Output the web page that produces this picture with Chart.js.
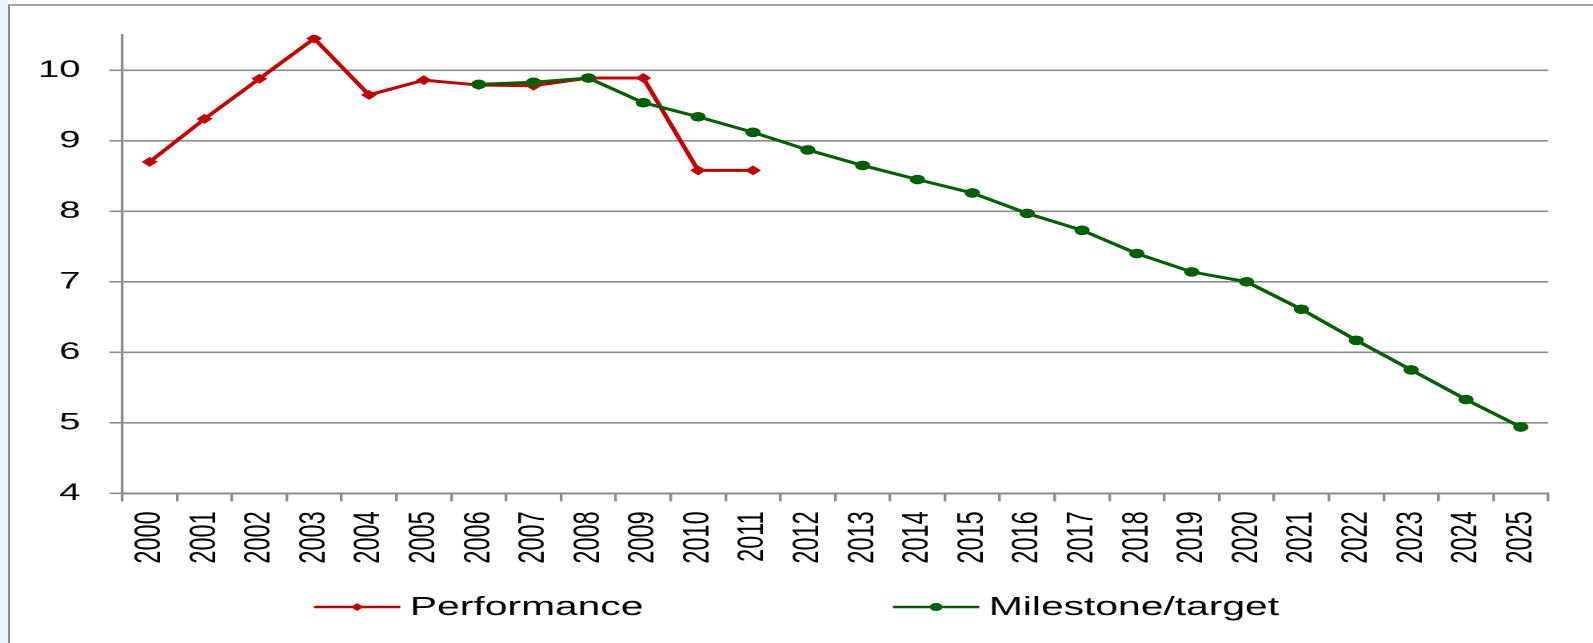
<!DOCTYPE html>
<html lang="en">
<head>
    <meta charset="UTF-8">
    <title>Performance and milestone/target</title>

    <script src="https://cdn.jsdelivr.net/npm/chart.js"></script>

    <style>
        html, body { margin: 0; padding: 0; background: #ffffff; }
        body { width: 1593px; height: 643px; position: relative; overflow: hidden; }
        #strip { position: absolute; left: 0; top: 0; width: 8px; height: 643px; background: #eef3fb; }
        #frame {
            position: absolute; left: 8px; top: 4px; right: 0; bottom: 0;
            border-left: 2px solid #8c8c8c; border-top: 2px solid #a6a6a6;
            background: #ffffff;
        }
        /* the original picture is stretched sideways, so is this one */
        #wrap {
            position: absolute; left: 0; top: 0; width: 996px; height: 643px;
            transform: scaleX(1.5994); transform-origin: 0 0;
        }
    </style>
</head>
<body>
    <div id="strip"></div>
    <div id="frame"></div>
    <div id="wrap"><canvas id="line-chart" width="996" height="643"></canvas></div>

    <script>
        // Data
        var years = ["2000", "2001", "2002", "2003", "2004", "2005", "2006", "2007", "2008",
                     "2009", "2010", "2011", "2012", "2013", "2014", "2015", "2016", "2017",
                     "2018", "2019", "2020", "2021", "2022", "2023", "2024", "2025"];

        var performance = [8.70, 9.31, 9.88, 10.45, 9.65, 9.86, 9.79, 9.78, 9.89, 9.89, 8.58, 8.58,
                           null, null, null, null, null, null, null, null, null, null, null, null, null, null];

        var milestone = [null, null, null, null, null, null,
                         9.80, 9.83, 9.89, 9.54, 9.34, 9.12, 8.87, 8.65, 8.45, 8.26, 7.97, 7.73,
                         7.40, 7.14, 7.00, 6.61, 6.17, 5.75, 5.33, 4.94];

        var yTicks = [4, 5, 6, 7, 8, 9, 10];

        var FONT = '"Liberation Sans", Arial, sans-serif';
        var GREY = "#8c8c8c";

        // Legend: a short line with the marker in the middle, then the label
        var lineLegend = {
            id: "lineLegend",
            afterDraw: function (chart) {
                var ctx = chart.ctx;
                var sets = chart.data.datasets;
                var lineLen = 54, textGap = 6, itemGap = 156, y = 607;

                ctx.save();
                ctx.font = "25.5px " + FONT;
                var widths = sets.map(function (ds) {
                    return lineLen + textGap + ctx.measureText(ds.label).width;
                });
                var total = widths.reduce(function (a, b) { return a + b; }, 0) + itemGap * (sets.length - 1);
                var x = chart.width / 2 - total / 2;

                sets.forEach(function (ds, i) {
                    ctx.strokeStyle = ds.borderColor;
                    ctx.lineWidth = 2.4;
                    ctx.beginPath();
                    ctx.moveTo(x, y);
                    ctx.lineTo(x + lineLen, y);
                    ctx.stroke();

                    var cx = x + lineLen / 2;
                    ctx.fillStyle = ds.borderColor;
                    ctx.beginPath();
                    if (ds.pointStyle === "rectRot") {
                        ctx.moveTo(cx - 4, y);
                        ctx.lineTo(cx, y - 4);
                        ctx.lineTo(cx + 4, y);
                        ctx.lineTo(cx, y + 4);
                        ctx.closePath();
                    } else {
                        ctx.arc(cx, y, 4, 0, Math.PI * 2);
                    }
                    ctx.fill();

                    ctx.fillStyle = "#000000";
                    ctx.textBaseline = "alphabetic";
                    ctx.textAlign = "left";
                    ctx.fillText(ds.label, x + lineLen + textGap, y + 8);
                    x += widths[i] + itemGap;
                });
                ctx.restore();
            }
        };

        var chart = new Chart(document.getElementById("line-chart"), {
            type: "line",
            data: {
                labels: years,
                datasets: [
                    {
                        label: "Performance",
                        data: performance,
                        borderColor: "#c00000",
                        backgroundColor: "#c00000",
                        borderWidth: 3,
                        pointStyle: "rectRot",
                        pointRadius: 5,
                        pointBorderWidth: 0,
                        order: 1,
                    },
                    {
                        label: "Milestone/target",
                        data: milestone,
                        borderColor: "#006000",
                        backgroundColor: "#006000",
                        borderWidth: 3,
                        pointStyle: "circle",
                        pointRadius: 4.8,
                        pointBorderWidth: 0,
                        order: 0,
                    },
                ]
            },
            options: {
                responsive: false,
                devicePixelRatio: 2,
                animation: false,
                spanGaps: false,
                layout: { padding: { left: 0, top: 35, right: 28, bottom: 0 } },
                plugins: {
                    legend: { display: false },
                    tooltip: { enabled: false },
                },
                scales: {
                    x: {
                        offset: true,
                        afterFit: function (scale) { scale.height = 149.7; },
                        grid: {
                            offset: true,
                            drawOnChartArea: false,
                            drawTicks: true,
                            tickLength: 8,
                            color: GREY,
                            lineWidth: 1.7,
                        },
                        border: { color: GREY, width: 2 },
                        ticks: {
                            autoSkip: false,
                            minRotation: 90,
                            maxRotation: 90,
                            padding: 10,
                            color: "#000000",
                            font: { family: FONT, size: 23.5 },
                        },
                    },
                    y: {
                        min: 4,
                        max: 10.5,
                        afterFit: function (scale) { scale.width = 76.4; },
                        afterBuildTicks: function (scale) {
                            scale.ticks = yTicks.map(function (v) { return { value: v }; });
                        },
                        grid: {
                            color: GREY,
                            lineWidth: 1.6,
                            tickLength: 8,
                        },
                        border: { color: GREY, width: 1.7 },
                        ticks: {
                            padding: 18,
                            color: "#000000",
                            font: { family: FONT, size: 24 },
                        },
                    },
                },
            },
            plugins: [lineLegend],
        });
    </script>
</body>
</html>
